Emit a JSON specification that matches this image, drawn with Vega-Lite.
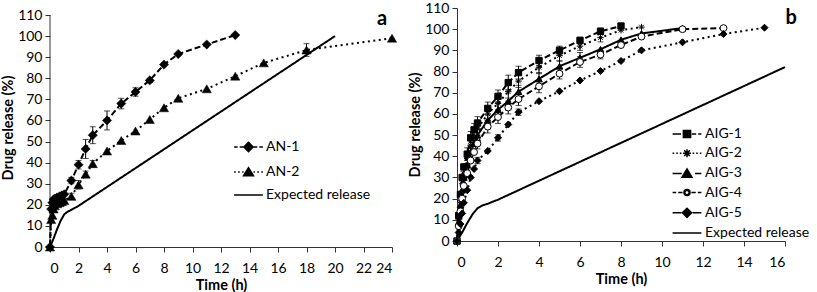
{
  "$schema": "https://vega.github.io/schema/vega-lite/v6.json",
  "padding": {"left": 0, "top": 1, "right": 5, "bottom": 0},
  "spacing": 9,
  "config": {
    "font": "Lato",
    "view": {"stroke": null},
    "axis": {"grid": false, "domainColor": "#333", "tickColor": "#333", "labelColor": "#000", "titleColor": "#000", "labelFontSize": 14, "titleFontSize": 14.5, "titleFontWeight": "bold", "tickSize": 5, "labelPadding": 3, "labelFont": "Lato", "titleFont": "Lato", "domainWidth": 1, "tickWidth": 1, "titlePadding": 2},
    "axisX": {"labelPadding": 9, "titlePadding": 3},
    "legend": {"labelFontSize": 14, "labelColor": "#000", "labelFont": "Lato", "padding": 0, "labelLimit": 300, "symbolSize": 64}
  },
  "datasets": {
    "left": [
      {"s":"AN-1","t":0,"v":0},{"s":"AN-1","t":0.083,"v":18},{"s":"AN-1","t":0.167,"v":21},{"s":"AN-1","t":0.25,"v":22.5},{"s":"AN-1","t":0.333,"v":23},{"s":"AN-1","t":0.5,"v":23.5},{"s":"AN-1","t":0.667,"v":24},{"s":"AN-1","t":0.833,"v":24.5},{"s":"AN-1","t":1,"v":25},{"s":"AN-1","t":1.5,"v":31.5,"e":1.5},{"s":"AN-1","t":2,"v":39,"e":2},{"s":"AN-1","t":2.5,"v":46.5,"e":4.5},{"s":"AN-1","t":3,"v":53,"e":4},{"s":"AN-1","t":4,"v":60,"e":4.5},{"s":"AN-1","t":5,"v":68,"e":2.5},{"s":"AN-1","t":6,"v":73.5,"e":2},{"s":"AN-1","t":7,"v":79,"e":1},{"s":"AN-1","t":8,"v":86.5},{"s":"AN-1","t":9,"v":91.5},{"s":"AN-1","t":11,"v":96},{"s":"AN-1","t":13,"v":100.5},
      {"s":"AN-2","t":0,"v":0},{"s":"AN-2","t":0.083,"v":13},{"s":"AN-2","t":0.167,"v":15},{"s":"AN-2","t":0.25,"v":18},{"s":"AN-2","t":0.333,"v":19.5},{"s":"AN-2","t":0.5,"v":20.5},{"s":"AN-2","t":0.667,"v":21},{"s":"AN-2","t":0.833,"v":21.5},{"s":"AN-2","t":1,"v":22},{"s":"AN-2","t":1.5,"v":24,"e":1.5},{"s":"AN-2","t":2,"v":29.5,"e":2},{"s":"AN-2","t":2.5,"v":34.5,"e":1.5},{"s":"AN-2","t":3,"v":39.5,"e":1.5},{"s":"AN-2","t":4,"v":45.5},{"s":"AN-2","t":5,"v":50.5},{"s":"AN-2","t":6,"v":55},{"s":"AN-2","t":7,"v":60.5},{"s":"AN-2","t":8,"v":66},{"s":"AN-2","t":9,"v":70.5},{"s":"AN-2","t":11,"v":75},{"s":"AN-2","t":13,"v":81},{"s":"AN-2","t":15,"v":87.3},{"s":"AN-2","t":18,"v":93.4,"e":3},{"s":"AN-2","t":24,"v":99},
      {"s":"Expected release","t":0,"v":0},{"s":"Expected release","t":0.25,"v":4},{"s":"Expected release","t":0.5,"v":8.5},{"s":"Expected release","t":0.75,"v":12.5},{"s":"Expected release","t":1,"v":15.5},{"s":"Expected release","t":1.25,"v":16.8},{"s":"Expected release","t":1.5,"v":17.6},{"s":"Expected release","t":2,"v":19.5},{"s":"Expected release","t":20,"v":100}
    ],
    "right": [
      {"s":"AIG-1","t":0,"v":0},{"s":"AIG-1","t":0.083,"v":12},{"s":"AIG-1","t":0.167,"v":22},{"s":"AIG-1","t":0.25,"v":30},{"s":"AIG-1","t":0.333,"v":35},{"s":"AIG-1","t":0.5,"v":41,"e":3},{"s":"AIG-1","t":0.667,"v":48.7,"e":3},{"s":"AIG-1","t":0.833,"v":52.5,"e":3},{"s":"AIG-1","t":1,"v":55.7,"e":3},{"s":"AIG-1","t":1.5,"v":62.6,"e":3},{"s":"AIG-1","t":2,"v":68.3,"e":3},{"s":"AIG-1","t":2.5,"v":74.8,"e":3.5},{"s":"AIG-1","t":3,"v":79.5,"e":3},{"s":"AIG-1","t":4,"v":85.2,"e":2.5},{"s":"AIG-1","t":5,"v":90,"e":2},{"s":"AIG-1","t":6,"v":94.7,"e":1.5},{"s":"AIG-1","t":7,"v":99,"e":1.5},{"s":"AIG-1","t":8,"v":101.5},
      {"s":"AIG-2","t":0,"v":0},{"s":"AIG-2","t":0.083,"v":10},{"s":"AIG-2","t":0.167,"v":19},{"s":"AIG-2","t":0.25,"v":27},{"s":"AIG-2","t":0.333,"v":33},{"s":"AIG-2","t":0.5,"v":39},{"s":"AIG-2","t":0.667,"v":45},{"s":"AIG-2","t":0.833,"v":49},{"s":"AIG-2","t":1,"v":53,"e":3},{"s":"AIG-2","t":1.5,"v":60,"e":3},{"s":"AIG-2","t":2,"v":65,"e":3},{"s":"AIG-2","t":2.5,"v":70.5,"e":3},{"s":"AIG-2","t":3,"v":75.5,"e":3},{"s":"AIG-2","t":4,"v":82,"e":3},{"s":"AIG-2","t":5,"v":87.5,"e":2.5},{"s":"AIG-2","t":6,"v":92,"e":2},{"s":"AIG-2","t":7,"v":96,"e":2},{"s":"AIG-2","t":8,"v":99.5},{"s":"AIG-2","t":9,"v":101},
      {"s":"AIG-3","t":0,"v":0},{"s":"AIG-3","t":0.083,"v":9},{"s":"AIG-3","t":0.167,"v":17},{"s":"AIG-3","t":0.25,"v":24},{"s":"AIG-3","t":0.333,"v":30},{"s":"AIG-3","t":0.5,"v":36},{"s":"AIG-3","t":0.667,"v":42},{"s":"AIG-3","t":0.833,"v":46},{"s":"AIG-3","t":1,"v":50,"e":2.5},{"s":"AIG-3","t":1.5,"v":57},{"s":"AIG-3","t":2,"v":62,"e":3},{"s":"AIG-3","t":2.5,"v":66},{"s":"AIG-3","t":3,"v":70.5,"e":3},{"s":"AIG-3","t":4,"v":76.5,"e":3},{"s":"AIG-3","t":5,"v":82.5,"e":2.5},{"s":"AIG-3","t":6,"v":86.5,"e":2.5},{"s":"AIG-3","t":7,"v":90.5},{"s":"AIG-3","t":8,"v":95},{"s":"AIG-3","t":9,"v":98},{"s":"AIG-3","t":11,"v":100.5},
      {"s":"AIG-4","t":0,"v":0},{"s":"AIG-4","t":0.083,"v":7},{"s":"AIG-4","t":0.167,"v":14},{"s":"AIG-4","t":0.25,"v":20},{"s":"AIG-4","t":0.333,"v":26},{"s":"AIG-4","t":0.5,"v":32},{"s":"AIG-4","t":0.667,"v":38},{"s":"AIG-4","t":0.833,"v":42},{"s":"AIG-4","t":1,"v":46,"e":2.5},{"s":"AIG-4","t":1.5,"v":54,"e":3},{"s":"AIG-4","t":2,"v":58.5,"e":3},{"s":"AIG-4","t":2.5,"v":63,"e":3},{"s":"AIG-4","t":3,"v":67,"e":3},{"s":"AIG-4","t":4,"v":73,"e":3},{"s":"AIG-4","t":5,"v":79,"e":2.5},{"s":"AIG-4","t":6,"v":84.5,"e":2.5},{"s":"AIG-4","t":7,"v":88,"e":2},{"s":"AIG-4","t":8,"v":92.5},{"s":"AIG-4","t":9,"v":96.5},{"s":"AIG-4","t":11,"v":100},{"s":"AIG-4","t":13,"v":100.5},
      {"s":"AIG-5","t":0,"v":0},{"s":"AIG-5","t":0.083,"v":4},{"s":"AIG-5","t":0.167,"v":8},{"s":"AIG-5","t":0.25,"v":13},{"s":"AIG-5","t":0.333,"v":18},{"s":"AIG-5","t":0.5,"v":24},{"s":"AIG-5","t":0.667,"v":30},{"s":"AIG-5","t":0.833,"v":34},{"s":"AIG-5","t":1,"v":38,"e":1.5},{"s":"AIG-5","t":1.5,"v":42.5},{"s":"AIG-5","t":2,"v":48.7,"e":1.5},{"s":"AIG-5","t":2.5,"v":55},{"s":"AIG-5","t":3,"v":60.8,"e":1.5},{"s":"AIG-5","t":4,"v":66},{"s":"AIG-5","t":5,"v":70.7},{"s":"AIG-5","t":6,"v":75.8},{"s":"AIG-5","t":7,"v":80.2},{"s":"AIG-5","t":8,"v":85},{"s":"AIG-5","t":9,"v":90},{"s":"AIG-5","t":11,"v":93.8},{"s":"AIG-5","t":13,"v":97.7},{"s":"AIG-5","t":15,"v":100.7},
      {"s":"Expected release","t":0,"v":0},{"s":"Expected release","t":0.25,"v":4},{"s":"Expected release","t":0.5,"v":8.5},{"s":"Expected release","t":0.75,"v":12.5},{"s":"Expected release","t":1,"v":15.5},{"s":"Expected release","t":1.25,"v":16.8},{"s":"Expected release","t":1.5,"v":17.6},{"s":"Expected release","t":2,"v":19.5},{"s":"Expected release","t":16,"v":82.1}
    ]
  },
  "hconcat": [
    {
      "width": 342,
      "height": 239,
      "data": {"name": "left"},
      "layer": [
        {
          "data": {"values": [{}]},
          "mark": {"type": "rule", "color": "#333", "strokeWidth": 1},
          "encoding": {
            "x": {"datum": 0, "type": "quantitative", "scale": {"domain": [0, 24], "nice": false}, "axis": {"values": [0,2,4,6,8,10,12,14,16,18,20,22,24], "title": "Time (h)"}},
            "y": {"datum": 0, "type": "quantitative", "scale": {"domain": [0, 113.32], "nice": false}, "axis": {"values": [0,10,20,30,40,50,60,70,80,90,100,110], "title": "Drug release (%)", "domain": false}},
            "y2": {"datum": 110}
          }
        },
        {
          "mark": {"type": "line", "strokeWidth": 2, "color": "black"},
          "encoding": {
            "x": {"field": "t", "type": "quantitative", "axis": {"values": [0,2,4,6,8,10,12,14,16,18,20,22,24], "title": "Time (h)"}},
            "y": {"field": "v", "type": "quantitative", "axis": {"values": [0,10,20,30,40,50,60,70,80,90,100,110], "title": "Drug release (%)", "domain": false}},
            "strokeDash": {"field": "s", "type": "nominal", "scale": {"domain": ["AN-1","AN-2","Expected release"], "range": [[6,3],[2,3.5],[1,0]]}, "legend": null}
          }
        },
        {
          "transform": [{"filter": "datum.e > 0"}],
          "mark": {"type": "errorbar", "ticks": {"size": 6}, "color": "black"},
          "encoding": {
            "x": {"field": "t", "type": "quantitative", "axis": {"values": [0,2,4,6,8,10,12,14,16,18,20,22,24], "title": "Time (h)"}},
            "y": {"field": "v", "type": "quantitative", "axis": {"values": [0,10,20,30,40,50,60,70,80,90,100,110], "title": "Drug release (%)", "domain": false}},
            "yError": {"field": "e"}
          }
        },
        {
          "transform": [{"filter": "datum.s != 'Expected release'"}],
          "mark": {"type": "point", "filled": true, "color": "black", "stroke": "black", "strokeWidth": 0.5, "size": 85, "opacity": 1},
          "encoding": {
            "x": {"field": "t", "type": "quantitative", "axis": {"values": [0,2,4,6,8,10,12,14,16,18,20,22,24], "title": "Time (h)"}},
            "y": {"field": "v", "type": "quantitative", "axis": {"values": [0,10,20,30,40,50,60,70,80,90,100,110], "title": "Drug release (%)", "domain": false}},
            "shape": {"field": "s", "type": "nominal", "scale": {"domain": ["AN-1","AN-2"], "range": ["diamond","triangle-up"]}, "legend": null}
          }
        },
        {
          "transform": [{"filter": "false"}],
          "mark": {"type": "point", "filled": true, "color": "black", "stroke": "black", "strokeWidth": 1.6, "size": 64, "opacity": 1},
          "encoding": {
            "x": {"field": "t", "type": "quantitative", "axis": {"values": [0,2,4,6,8,10,12,14,16,18,20,22,24], "title": "Time (h)"}},
            "y": {"field": "v", "type": "quantitative", "axis": {"values": [0,10,20,30,40,50,60,70,80,90,100,110], "title": "Drug release (%)", "domain": false}},
            "shape": {"field": "s", "type": "nominal",
              "scale": {"domain": ["AN-1","AN-2","Expected release"],
                "range": [
                  "M-3.6,0H-2.7M-2.2,0H-1.3M1.3,0H2.2M2.7,0H3.6M0,-1.15L1.15,0L0,1.15L-1.15,0Z",
                  "M-3.6,0H-3.2M-2.6,0H-2.2M-1.6,0H-1.25M1.25,0H1.6M2.2,0H2.6M3.2,0H3.6M0,-1.1L1.25,0.95L-1.25,0.95Z",
                  "M-3.6,0H3.6"
                ]},
              "legend": {"title": null, "orient": "none", "legendX": 191.5, "legendY": 132, "labelOffset": 10.5, "rowPadding": 9,
                "encode": {"symbols": {"update": {"stroke": {"value": "black"}, "strokeWidth": {"value": 1.6}, "fill": {"value": "black"}, "opacity": {"value": 1}}}}}
            }
          }
        },
        {
          "data": {"values": [{}]},
          "mark": {"type": "text", "fontSize": 20, "fontWeight": "bold", "font": "Lato", "color": "black"},
          "encoding": {
            "x": {"datum": 23.3, "type": "quantitative", "axis": {"values": [0,2,4,6,8,10,12,14,16,18,20,22,24], "title": "Time (h)"}},
            "y": {"datum": 108, "type": "quantitative", "axis": {"values": [0,10,20,30,40,50,60,70,80,90,100,110], "title": "Drug release (%)", "domain": false}},
            "text": {"value": "a"}
          }
        }
      ],
      "resolve": {"scale": {"shape": "independent"}}
    },
    {
      "width": 328,
      "height": 233,
      "data": {"name": "right"},
      "layer": [
        {
          "mark": {"type": "line", "strokeWidth": 2, "color": "black"},
          "encoding": {
            "x": {"field": "t", "type": "quantitative", "scale": {"domain": [0, 16], "nice": false}, "axis": {"values": [0,2,4,6,8,10,12,14,16], "title": "Time (h)"}},
            "y": {"field": "v", "type": "quantitative", "scale": {"domain": [0, 110], "nice": false}, "axis": {"values": [0,10,20,30,40,50,60,70,80,90,100,110], "title": "Drug release (%)"}},
            "strokeDash": {"field": "s", "type": "nominal", "scale": {"domain": ["AIG-1","AIG-2","AIG-3","AIG-4","AIG-5","Expected release"], "range": [[8,4],[2,3],[12,3],[5,3],[8,3,2,3],[1,0]]}, "legend": null}
          }
        },
        {
          "transform": [{"filter": "datum.e > 0"}],
          "mark": {"type": "errorbar", "ticks": {"size": 6}, "color": "black"},
          "encoding": {
            "x": {"field": "t", "type": "quantitative", "axis": {"values": [0,2,4,6,8,10,12,14,16], "title": "Time (h)"}},
            "y": {"field": "v", "type": "quantitative", "axis": {"values": [0,10,20,30,40,50,60,70,80,90,100,110], "title": "Drug release (%)"}},
            "yError": {"field": "e"}
          }
        },
        {
          "transform": [{"filter": "datum.s != 'Expected release'"}],
          "mark": {"type": "point", "filled": true, "color": "black", "stroke": "black", "strokeWidth": 1, "opacity": 1},
          "encoding": {
            "x": {"field": "t", "type": "quantitative", "axis": {"values": [0,2,4,6,8,10,12,14,16], "title": "Time (h)"}},
            "y": {"field": "v", "type": "quantitative", "axis": {"values": [0,10,20,30,40,50,60,70,80,90,100,110], "title": "Drug release (%)"}},
            "shape": {"field": "s", "type": "nominal", "scale": {"domain": ["AIG-1","AIG-2","AIG-3","AIG-4","AIG-5"], "range": ["square","M-1,0H1M0,-1V1M-0.7,-0.7L0.7,0.7M-0.7,0.7L0.7,-0.7","triangle-up","circle","diamond"]}, "legend": null},
            "size": {"field": "s", "type": "nominal", "scale": {"domain": ["AIG-1","AIG-2","AIG-3","AIG-4","AIG-5"], "range": [40,49,56,36,64]}, "legend": null},
            "fill": {"field": "s", "type": "nominal", "scale": {"domain": ["AIG-1","AIG-2","AIG-3","AIG-4","AIG-5"], "range": ["black","black","black","white","black"]}, "legend": null}
          }
        },
        {
          "transform": [{"filter": "false"}],
          "mark": {"type": "point", "filled": true, "color": "black", "stroke": "black", "strokeWidth": 1.6, "size": 64, "opacity": 1},
          "encoding": {
            "x": {"field": "t", "type": "quantitative", "axis": {"values": [0,2,4,6,8,10,12,14,16], "title": "Time (h)"}},
            "y": {"field": "v", "type": "quantitative", "axis": {"values": [0,10,20,30,40,50,60,70,80,90,100,110], "title": "Drug release (%)"}},
            "shape": {"field": "s", "type": "nominal",
              "scale": {"domain": ["AIG-1","AIG-2","AIG-3","AIG-4","AIG-5","Expected release"],
                "range": [
                  "M-3.6,0H-1.5M1.2,0H2.3M2.8,0H3.6M-0.9,-0.9H0.9V0.9H-0.9Z",
                  "M-3.6,0H-3.2M-2.7,0H-2.3M-1.8,0H-1.4M1.4,0H1.8M2.3,0H2.7M3.2,0H3.6M-1,0H1M0,-1V1M-0.7,-0.7L0.7,0.7M-0.7,0.7L0.7,-0.7",
                  "M-3.6,0H-1.3M2.0,0H3.6M0,-1.1L1.25,0.95L-1.25,0.95Z",
                  "M-3.6,0H-2.7M-2.2,0H-1.1M1.1,0H2.2M2.7,0H3.6M-0.75,0A0.75,0.75,0,1,1,0.75,0A0.75,0.75,0,1,1,-0.75,0ZM-0.55,0A0.55,0.55,0,1,0,0.55,0A0.55,0.55,0,1,0,-0.55,0Z",
                  "M-3.6,0H-1.4M1.4,0H3.6M0,-1.15L1.15,0L0,1.15L-1.15,0Z",
                  "M-3.6,0H3.6"
                ]},
              "legend": {"title": null, "orient": "none", "legendX": 223, "legendY": 119, "labelOffset": 11, "rowPadding": 5.2,
                "encode": {"symbols": {"update": {"stroke": {"value": "black"}, "strokeWidth": {"value": 1.6}, "fill": {"value": "black"}, "opacity": {"value": 1}}}}}
            }
          }
        },
        {
          "data": {"values": [{}]},
          "mark": {"type": "text", "fontSize": 20, "fontWeight": "bold", "font": "Lato", "color": "black", "clip": false},
          "encoding": {
            "x": {"datum": 16.3, "type": "quantitative", "axis": {"values": [0,2,4,6,8,10,12,14,16], "title": "Time (h)"}},
            "y": {"datum": 105.5, "type": "quantitative", "axis": {"values": [0,10,20,30,40,50,60,70,80,90,100,110], "title": "Drug release (%)"}},
            "text": {"value": "b"}
          }
        }
      ],
      "resolve": {"scale": {"shape": "independent"}}
    }
  ]
}
